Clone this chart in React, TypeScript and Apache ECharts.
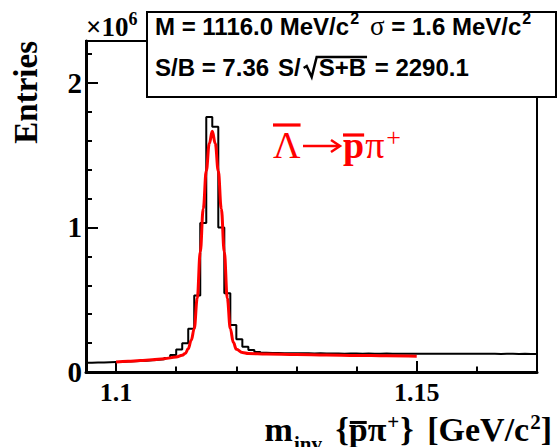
import React, { useEffect, useRef } from "react";
import * as echarts from "echarts";

// Invariant-mass histogram: entries per 1 MeV bin, in units of 10^6
const binLow = 1.095;
const binWidth = 0.001;
const entries = [
  0.064, 0.065, 0.066, 0.068, 0.069, 0.07, 0.072, 0.074, 0.076, 0.078,
  0.081, 0.084, 0.088, 0.096, 0.118, 0.155, 0.199, 0.3, 0.529, 1.03,
  1.765, 1.696, 1.0, 0.545, 0.326, 0.227, 0.175, 0.152, 0.139, 0.134,
  0.132, 0.131, 0.13, 0.13, 0.129, 0.129, 0.129, 0.128, 0.129, 0.128,
  0.128, 0.128, 0.127, 0.128, 0.128, 0.127, 0.128, 0.127, 0.127, 0.128,
  0.127, 0.127, 0.127, 0.127, 0.126, 0.127, 0.127, 0.126, 0.127, 0.126,
  0.127, 0.126, 0.126, 0.126, 0.127, 0.126, 0.126, 0.126, 0.125, 0.126,
  0.126, 0.125, 0.126, 0.125, 0.125,
];

// Fitted signal + background curve (GeV, 10^6 entries)
const fitMass = [
  1.1, 1.102, 1.104, 1.106, 1.108, 1.11, 1.111, 1.1115, 1.112, 1.1125,
  1.113, 1.1135, 1.114, 1.1145, 1.115, 1.1155, 1.116, 1.1165, 1.117, 1.1175,
  1.118, 1.1185, 1.119, 1.1195, 1.12, 1.121, 1.122, 1.125, 1.13, 1.135,
  1.14, 1.145, 1.15,
];
const fitEntries = [
  0.069, 0.074, 0.079, 0.085, 0.092, 0.103, 0.116, 0.128, 0.16, 0.22,
  0.3, 0.51, 0.83, 1.13, 1.39, 1.58, 1.665, 1.58, 1.39, 1.13,
  0.83, 0.51, 0.3, 0.205, 0.158, 0.135, 0.128, 0.124, 0.121, 0.118,
  0.115, 0.112, 0.109,
];

const xMax = 1.17;
const yMax = 2.29;
const xLabelTicks = [1.1, 1.15];
const xMinorTicks = [1.1, 1.11, 1.12, 1.13, 1.14, 1.15, 1.16];
const yLabelTicks = [0, 1, 2];
const yMinorTicks = [0.2, 0.4, 0.6, 0.8, 1.2, 1.4, 1.6, 1.8, 2.2];

const statMass = "M = 1116.0 MeV/c";
const statSigma = " = 1.6 MeV/c";
const statSB = "S/B = 7.36";
const statSig1 = "S/";
const statSig2 = "S+B";
const statSig3 = " = 2290.1";

const SERIF = '"Liberation Serif", "Times New Roman", serif';
const SANS = '"Liberation Sans", Arial, Helvetica, sans-serif';
const SERIF_MID = 0.3375;
const SANS_MID = 0.3465;

function measure(text: string, font: string): number {
  const ctx = document.createElement("canvas").getContext("2d");
  if (!ctx) return text.length * 10;
  ctx.font = font;
  return ctx.measureText(text).width;
}

function fontOf(size: number, family: string, weight: string) {
  return `${weight} ${size}px ${family}`;
}

function textEl(
  text: string,
  x: number,
  baseline: number,
  size: number,
  family: string,
  weight: string,
  fill: string,
  align: string = "left"
) {
  const mid = family === SERIF ? SERIF_MID : SANS_MID;
  return {
    type: "text",
    x,
    y: baseline - mid * size,
    z: 100,
    style: {
      text,
      fill,
      font: fontOf(size, family, weight),
      textAlign: align,
      textVerticalAlign: "middle",
      align,
      verticalAlign: "middle",
    },
  };
}

function lineEl(x1: number, y1: number, x2: number, y2: number, stroke: string, width: number) {
  return {
    type: "line",
    z: 100,
    shape: { x1, y1, x2, y2 },
    style: { stroke, lineWidth: width },
  };
}

type Piece = { t: string; size: number; dy: number; weight: string; over?: boolean; pad?: number };

// Lays out a run of text pieces ending at `right`, with sub/superscripts and overlines
function runEls(pieces: Piece[], right: number, baseline: number, family: string, fill: string) {
  const widths = pieces.map((p) => measure(p.t, fontOf(p.size, family, p.weight)));
  const total = widths.reduce((a, b) => a + b, 0) + pieces.reduce((a, p) => a + (p.pad || 0), 0);
  let x = right - total;
  const els: any[] = [];
  pieces.forEach((p, i) => {
    x += p.pad || 0;
    els.push(textEl(p.t, x, baseline + p.dy, p.size, family, p.weight, fill));
    if (p.over) {
      const y = baseline + p.dy - 0.457 * p.size - 3;
      els.push(lineEl(x + 1, y, x + widths[i] - 1, y, fill, 3));
    }
    x += widths[i];
  });
  return els;
}

export default function App() {
  const ref = useRef<HTMLDivElement>(null);

  useEffect(() => {
    if (!ref.current) return;
    const chart = echarts.init(ref.current, undefined, { renderer: "svg" });

    const histPoints: [number, number][] = [];
    entries.forEach((v, i) => {
      const lo = binLow + i * binWidth;
      histPoints.push([lo, v], [lo + binWidth, v]);
    });
    const fitPoints = fitMass.map((m, i) => [m, fitEntries[i]]);

    const graphic: any[] = [];

    // exponent marker above the y axis
    const expFont = fontOf(27, SERIF, "bold");
    graphic.push(textEl("\u00d710", 86, 36, 27, SERIF, "bold", "#000"));
    graphic.push(textEl("6", 86 + measure("\u00d710", expFont), 25, 18, SERIF, "bold", "#000"));

    // fit-result box
    graphic.push({
      type: "rect",
      z: 99,
      shape: { x: 147, y: 12, width: 409, height: 85 },
      style: { fill: "#fff", stroke: "#000", lineWidth: 2 },
    });
    const statFont = fontOf(24, SANS, "bold");
    graphic.push(textEl(statMass, 155, 35, 24, SANS, "bold", "#000"));
    graphic.push(textEl("2", 155 + measure(statMass, statFont) + 1, 24, 16, SANS, "bold", "#000"));
    const sigmaW = measure("\u03c3", fontOf(27, SERIF, "normal"));
    graphic.push(textEl("\u03c3", 370, 35, 27, SERIF, "normal", "#000"));
    graphic.push(textEl(statSigma, 370 + sigmaW, 35, 24, SANS, "bold", "#000"));
    graphic.push(
      textEl("2", 371 + sigmaW + measure(statSigma, statFont), 24, 16, SANS, "bold", "#000")
    );
    graphic.push(textEl(statSB, 155, 76, 24, SANS, "bold", "#000"));
    const sigX = 278;
    graphic.push(textEl(statSig1, sigX, 76, 24, SANS, "bold", "#000"));
    const rootX = sigX + measure(statSig1, statFont) + 3;
    const innerX = rootX + 15;
    const innerW = measure(statSig2, statFont);
    graphic.push({
      type: "polyline",
      z: 100,
      shape: {
        points: [
          [rootX, 68],
          [rootX + 3, 66],
          [rootX + 8, 77],
          [rootX + 13, 57],
          [innerX + innerW + 1, 57],
        ],
      },
      style: { stroke: "#000", lineWidth: 2.5, fill: "none" },
    });
    graphic.push(textEl(statSig2, innerX, 76, 24, SANS, "bold", "#000"));
    graphic.push(textEl(statSig3, innerX + innerW + 2, 76, 24, SANS, "bold", "#000"));

    // decay channel label
    const red = "#ff0000";
    const lamFont = fontOf(38, SERIF, "normal");
    const lamW = measure("\u039b", lamFont);
    graphic.push(textEl("\u039b", 273, 158, 38, SERIF, "normal", red));
    graphic.push(lineEl(273, 125, 273 + lamW, 125, red, 3.2));
    graphic.push(lineEl(303, 146, 339, 146, red, 2.5));
    graphic.push({
      type: "polyline",
      z: 100,
      shape: { points: [[331, 140], [340, 146], [331, 152]] },
      style: { stroke: red, lineWidth: 2.5, fill: "none" },
    });
    const pFont = fontOf(38, SERIF, "bold");
    const pW = measure("p", pFont);
    graphic.push(textEl("p", 343, 158, 38, SERIF, "bold", red));
    graphic.push(lineEl(343, 135, 343 + pW, 135, red, 3.2));
    const piW = measure("\u03c0", lamFont);
    graphic.push(textEl("\u03c0", 344 + pW, 158, 38, SERIF, "normal", red));
    graphic.push(textEl("+", 346 + pW + piW, 146, 26, SERIF, "normal", red));

    // x-axis title
    const F = 34;
    const S = 21;
    graphic.push(
      ...runEls(
        [
          { t: "m", size: F, dy: 0, weight: "bold" },
          { t: "inv", size: S, dy: 10, weight: "bold", pad: 1 },
          { t: " {", size: F, dy: 0, weight: "bold", pad: 5 },
          { t: "p", size: F, dy: 0, weight: "bold", over: true },
          { t: "\u03c0", size: F, dy: 0, weight: "bold" },
          { t: "+", size: S, dy: -12, weight: "bold", pad: 1 },
          { t: "}", size: F, dy: 0, weight: "bold", pad: 1 },
          { t: " [GeV/c", size: F, dy: 0, weight: "bold", pad: 5 },
          { t: "2", size: S, dy: -12, weight: "bold", pad: 1 },
          { t: "]", size: F, dy: 0, weight: "bold" },
        ],
        552,
        441,
        SERIF,
        "#000"
      )
    );

    // y-axis title
    graphic.push({
      type: "text",
      x: 26,
      y: 41,
      rotation: Math.PI / 2,
      z: 100,
      style: {
        text: "Entries",
        fill: "#000",
        font: fontOf(33, SERIF, "bold"),
        textAlign: "right",
        textVerticalAlign: "middle",
        align: "right",
        verticalAlign: "middle",
      },
    });

    const tickStyle = { color: "#000", width: 2 };

    chart.setOption({
      animation: false,
      backgroundColor: "#fff",
      grid: {
        left: 86,
        top: 41,
        right: 21,
        bottom: 75,
        show: true,
        borderColor: "#000",
        borderWidth: 2,
        backgroundColor: "transparent",
      },
      xAxis: [
        {
          type: "value",
          min: binLow,
          max: xMax,
          position: "bottom",
          axisLine: { show: true, onZero: false, lineStyle: { color: "#000", width: 3 } },
          axisTick: { show: true, inside: true, length: 11, customValues: xLabelTicks, lineStyle: tickStyle },
          axisLabel: {
            show: true,
            customValues: xLabelTicks,
            margin: 7,
            color: "#000",
            fontFamily: SERIF,
            fontWeight: "bold",
            fontSize: 26,
            formatter: (v: number) => String(v),
          },
          splitLine: { show: false },
        },
        {
          type: "value",
          min: binLow,
          max: xMax,
          position: "bottom",
          axisLine: { show: false, onZero: false },
          axisTick: { show: true, inside: true, length: 5.5, customValues: xMinorTicks, lineStyle: tickStyle },
          axisLabel: { show: false },
          splitLine: { show: false },
        },
      ],
      yAxis: [
        {
          type: "value",
          min: 0,
          max: yMax,
          position: "left",
          axisLine: { show: true, onZero: false, lineStyle: { color: "#000", width: 3 } },
          axisTick: { show: true, inside: true, length: 12, customValues: yLabelTicks, lineStyle: tickStyle },
          axisLabel: {
            show: true,
            customValues: yLabelTicks,
            margin: 4,
            color: "#000",
            fontFamily: SERIF,
            fontWeight: "bold",
            fontSize: 29,
            formatter: (v: number) => String(v),
          },
          splitLine: { show: false },
        },
        {
          type: "value",
          min: 0,
          max: yMax,
          position: "left",
          axisLine: { show: false, onZero: false },
          axisTick: { show: true, inside: true, length: 6, customValues: yMinorTicks, lineStyle: tickStyle },
          axisLabel: { show: false },
          splitLine: { show: false },
        },
      ],
      series: [
        {
          type: "line",
          data: histPoints,
          xAxisIndex: 0,
          yAxisIndex: 0,
          symbol: "none",
          lineStyle: { color: "#000", width: 2 },
          z: 2,
        },
        {
          type: "line",
          data: fitPoints,
          xAxisIndex: 0,
          yAxisIndex: 0,
          symbol: "none",
          smooth: 0.4,
          smoothMonotone: "x",
          lineStyle: { color: red, width: 3 },
          z: 3,
        },
      ],
      graphic,
    });

    return () => {
      chart.dispose();
    };
  }, []);

  return (
    <div
      ref={ref}
      style={{ position: "absolute", left: 0, top: 0, width: 558, height: 447 }}
    />
  );
}
